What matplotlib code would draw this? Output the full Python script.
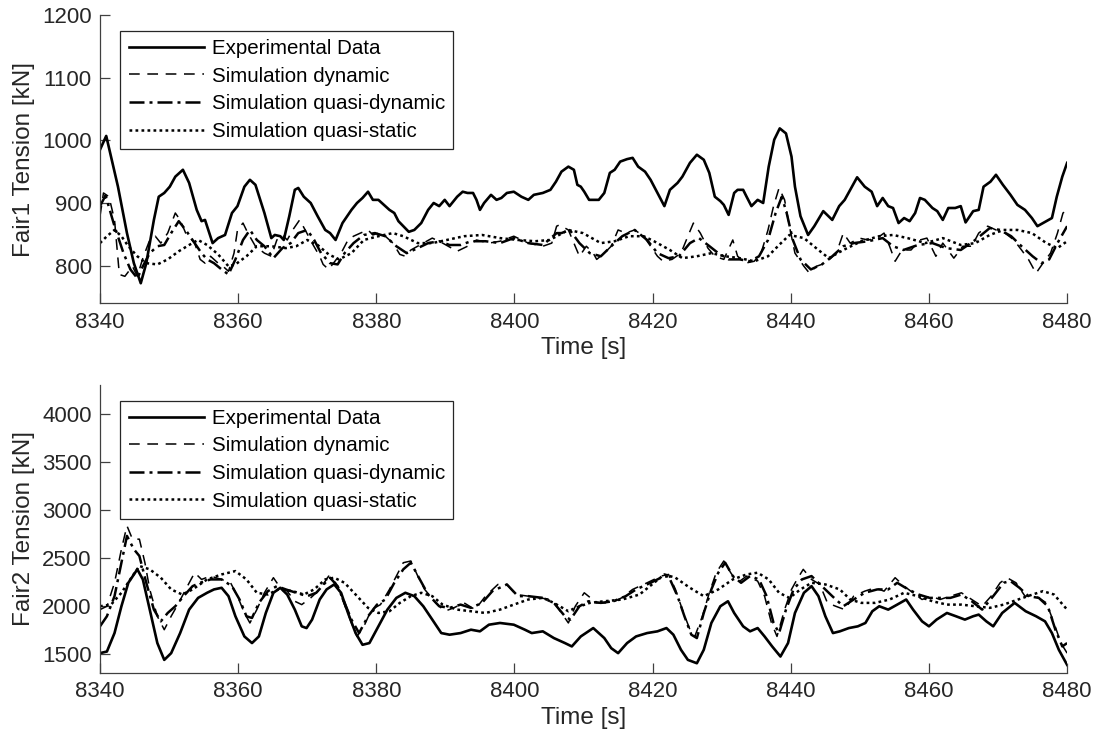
import matplotlib
matplotlib.use("Agg")
import matplotlib.pyplot as plt

# ---- Fair1 (top panel) ----
t_exp1 = [8340, 8340.9, 8342.6, 8343.9, 8344.9, 8345.9, 8346.7, 8347.8, 8348.5, 8349.3, 8350.1, 8350.9,
          8352.0, 8352.9, 8354.0, 8354.7, 8355.2, 8356.3, 8357.1, 8358.1, 8359.1, 8359.9, 8360.9, 8361.7,
          8362.5, 8363.8, 8364.8, 8365.3, 8366.1, 8366.6, 8367.4, 8368.2, 8368.7, 8369.5, 8370.5, 8371.5,
          8372.6, 8373.3, 8374.1, 8375.1, 8376.4, 8377.2, 8378.0, 8378.8, 8379.5, 8380.3, 8381.1, 8381.9,
          8382.6, 8383.2, 8383.9, 8384.7, 8385.5, 8386.5, 8387.5, 8388.3, 8389.1, 8389.9, 8390.6, 8391.7,
          8392.5, 8393.2, 8394.0, 8394.5, 8395.0, 8395.6, 8396.6, 8397.4, 8398.1, 8398.9, 8399.9, 8401.0,
          8402.0, 8402.8, 8404.1, 8405.2, 8406.0, 8406.8, 8407.8, 8408.6, 8409.1, 8409.6, 8410.1, 8410.8,
          8412.2, 8413.0, 8413.8, 8414.5, 8415.3, 8416.3, 8417.1, 8417.9, 8418.9, 8419.7, 8420.7, 8421.7,
          8422.5, 8423.6, 8424.3, 8425.4, 8426.4, 8427.4, 8428.2, 8429.0, 8429.8, 8430.3, 8431.0, 8431.8,
          8432.3, 8433.1, 8433.6, 8434.3, 8435.2, 8436.0, 8436.8, 8437.6, 8438.4, 8439.3, 8440.1, 8440.6,
          8441.4, 8442.5, 8443.4, 8444.7, 8446.0, 8447.0, 8447.8, 8448.6, 8449.6, 8450.7, 8451.7, 8452.5,
          8453.3, 8454.1, 8454.8, 8455.6, 8456.4, 8457.2, 8458.0, 8458.7, 8459.4, 8460.5, 8461.2, 8462.0,
          8462.8, 8463.8, 8464.6, 8465.3, 8466.4, 8467.2, 8467.9, 8468.9, 8469.7, 8470.7, 8471.8, 8472.8,
          8473.9, 8474.9, 8475.7, 8477.0, 8477.8, 8478.5, 8479.3, 8480.0]
f_exp1 = [985, 1007, 926, 852, 804, 772, 804, 873, 910, 916, 926, 942,
          953, 932, 889, 871, 873, 836, 844, 849, 884, 895, 926, 937,
          929, 884, 844, 849, 847, 841, 879, 921, 924, 910, 900, 879,
          857, 852, 841, 868, 889, 900, 908, 918, 905, 905, 897, 889,
          884, 871, 863, 854, 857, 868, 889, 900, 895, 905, 895, 910,
          918, 916, 916, 905, 889, 900, 913, 905, 908, 916, 918, 910,
          905, 913, 916, 921, 934, 950, 958, 953, 929, 926, 918, 905,
          905, 916, 948, 953, 966, 970, 972, 958, 950, 937, 916, 895,
          921, 932, 942, 964, 977, 969, 948, 910, 903, 897, 881, 916,
          921, 921, 910, 895, 905, 900, 958, 1001, 1019, 1011, 974, 926,
          879, 849, 863, 887, 873, 895, 905, 921, 941, 926, 918, 895,
          908, 895, 892, 868, 876, 871, 884, 908, 905, 892, 887, 873,
          892, 892, 895, 869, 887, 889, 926, 934, 945, 929, 913, 897,
          889, 876, 863, 871, 876, 910, 942, 964]

t_dyn1 = [8340, 8340.5, 8341.3, 8342.1, 8342.8, 8343.6, 8344.7, 8345.4, 8346.2, 8347.2, 8348.0, 8348.8,
          8349.8, 8350.9, 8351.6, 8352.4, 8353.7, 8354.5, 8355.2, 8356.0, 8357.1, 8357.8, 8358.6, 8359.4,
          8359.9, 8360.7, 8361.4, 8362.5, 8363.8, 8364.8, 8365.6, 8366.4, 8367.1, 8367.9, 8368.9, 8369.7,
          8370.7, 8371.8, 8372.3, 8373.1, 8373.8, 8374.9, 8375.9, 8376.7, 8377.7, 8378.8, 8379.5, 8380.3,
          8381.3, 8382.4, 8383.4, 8384.2, 8385.0, 8386.3, 8387.3, 8388.1, 8389.6, 8390.9, 8391.7, 8393.2,
          8394.5, 8396.3, 8397.9, 8399.9, 8402.0, 8404.1, 8405.4, 8406.1, 8406.5, 8407.8, 8408.8, 8409.4,
          8410.4, 8411.4, 8411.9, 8413.0, 8414.0, 8415.0, 8416.1, 8417.4, 8418.7, 8419.7, 8420.7, 8421.5,
          8422.8, 8424.1, 8425.1, 8425.9, 8426.9, 8428.0, 8429.0, 8430.3, 8431.6, 8432.3, 8433.4, 8434.7,
          8435.7, 8436.7, 8437.5, 8438.3, 8439.1, 8439.8, 8440.6, 8441.9, 8442.7, 8443.7, 8445.0, 8446.6,
          8447.6, 8448.6, 8449.9, 8451.2, 8452.5, 8453.5, 8454.3, 8455.1, 8456.1, 8457.4, 8458.7, 8459.7,
          8461.0, 8462.0, 8463.6, 8464.9, 8466.2, 8467.2, 8468.5, 8469.7, 8471.0, 8472.3, 8473.4, 8474.4,
          8475.5, 8476.5, 8477.6, 8478.6, 8479.4, 8480.0]
f_dyn1 = [879, 916, 910, 873, 786, 783, 799, 783, 812, 841, 847, 836,
          852, 884, 873, 852, 836, 810, 804, 815, 804, 799, 791, 820,
          857, 868, 852, 831, 820, 815, 841, 849, 841, 857, 873, 857,
          836, 815, 802, 794, 804, 820, 841, 847, 852, 857, 849, 852,
          847, 836, 818, 815, 825, 833, 839, 844, 836, 828, 823, 831,
          841, 836, 839, 847, 836, 831, 836, 863, 865, 857, 831, 815,
          831, 820, 810, 820, 831, 857, 852, 857, 847, 831, 815, 807,
          810, 820, 847, 868, 852, 828, 815, 810, 841, 815, 804, 807,
          820, 857, 895, 924, 905, 863, 820, 799, 788, 799, 804, 820,
          852, 836, 844, 841, 844, 852, 831, 807, 825, 825, 841, 844,
          815, 836, 812, 831, 831, 852, 863, 857, 852, 841, 825, 810,
          788, 804, 820, 852, 884, 889]

t_qdyn1 = [8340, 8340.8, 8342.1, 8343.4, 8344.4, 8345.4, 8346.2, 8347.2, 8348.3, 8349.3, 8350.3, 8351.4,
           8352.4, 8353.7, 8354.7, 8355.5, 8356.5, 8357.6, 8358.6, 8359.6, 8360.7, 8361.7, 8362.7, 8363.8,
           8365.1, 8366.4, 8367.6, 8368.7, 8370.0, 8371.0, 8372.0, 8373.3, 8374.4, 8375.4, 8376.7, 8378.2,
           8379.8, 8381.3, 8382.9, 8384.4, 8386.0, 8387.5, 8389.1, 8390.6, 8392.2, 8393.7, 8395.8, 8397.9,
           8399.9, 8402.0, 8404.1, 8406.1, 8406.8, 8408.0, 8409.4, 8410.9, 8412.5, 8414.0, 8415.6, 8417.4,
           8419.2, 8420.7, 8422.3, 8423.8, 8425.4, 8426.7, 8428.0, 8429.5, 8431.0, 8432.6, 8434.1, 8435.4,
           8436.7, 8437.8, 8438.7, 8439.4, 8440.3, 8441.4, 8442.9, 8444.5, 8446.0, 8447.6, 8449.1, 8451.2,
           8453.3, 8454.8, 8456.3, 8458.4, 8460.5, 8462.5, 8464.6, 8466.7, 8468.8, 8470.3, 8471.9, 8473.4,
           8475.0, 8476.3, 8477.4, 8478.6, 8480.0]
f_qdyn1 = [895, 912, 863, 820, 794, 780, 799, 820, 831, 833, 852, 871,
           857, 836, 820, 810, 804, 794, 786, 810, 841, 857, 841, 831,
           812, 828, 836, 852, 857, 841, 820, 804, 802, 820, 836, 849,
           852, 847, 831, 820, 828, 836, 839, 833, 833, 839, 839, 836,
           844, 836, 833, 852, 852, 857, 836, 820, 815, 831, 847, 857,
           841, 820, 812, 815, 836, 844, 833, 820, 810, 810, 807, 815,
           841, 884, 910, 884, 841, 810, 794, 802, 815, 831, 836, 839,
           844, 831, 825, 833, 836, 828, 825, 841, 860, 857, 847, 831,
           815, 804, 810, 836, 863]

t_qst1 = [8340, 8341.0, 8342.1, 8343.1, 8344.1, 8345.4, 8346.7, 8348.3, 8349.8, 8351.4, 8352.9, 8354.2,
          8355.5, 8357.1, 8358.6, 8359.6, 8361.2, 8362.7, 8364.8, 8366.9, 8368.4, 8370.0, 8371.5, 8373.1,
          8374.6, 8376.4, 8378.2, 8380.3, 8382.4, 8383.9, 8386.0, 8388.1, 8390.2, 8392.7, 8395.3, 8397.9,
          8400.5, 8403.0, 8405.1, 8407.8, 8409.9, 8412.5, 8414.5, 8416.6, 8418.7, 8420.2, 8422.5, 8424.3,
          8426.4, 8428.5, 8430.5, 8432.6, 8434.7, 8436.7, 8438.3, 8439.8, 8441.9, 8444.0, 8445.5, 8447.6,
          8450.2, 8452.8, 8454.8, 8456.9, 8459.5, 8462.0, 8464.6, 8466.7, 8468.8, 8470.8, 8472.8, 8474.9,
          8477.0, 8478.6, 8480.0]
f_qst1 = [836, 847, 857, 847, 831, 815, 804, 802, 810, 823, 833, 841,
          833, 818, 799, 802, 815, 831, 831, 828, 831, 841, 833, 818,
          810, 820, 841, 847, 852, 847, 836, 836, 841, 847, 849, 844,
          841, 839, 841, 857, 852, 836, 839, 847, 847, 839, 825, 812,
          815, 820, 815, 812, 807, 815, 833, 849, 844, 825, 812, 825,
          839, 847, 849, 844, 836, 844, 833, 836, 849, 857, 857, 852,
          836, 828, 839]

# ---- Fair2 (bottom panel) ----
t_exp2 = [8340, 8341.0, 8342.1, 8343.1, 8344.1, 8345.4, 8346.2, 8347.2, 8348.3, 8349.3, 8350.3, 8351.6,
          8352.9, 8354.2, 8355.5, 8356.5, 8357.6, 8358.6, 8359.6, 8360.9, 8362.0, 8363.0, 8364.0, 8365.1,
          8366.1, 8367.1, 8368.2, 8369.2, 8369.9, 8370.7, 8371.8, 8372.8, 8373.9, 8374.9, 8375.9, 8377.0,
          8378.0, 8379.0, 8380.3, 8381.6, 8382.9, 8384.2, 8385.5, 8386.8, 8388.1, 8389.4, 8390.6, 8392.2,
          8393.7, 8395.0, 8396.3, 8397.9, 8399.9, 8401.5, 8402.5, 8404.1, 8405.7, 8407.3, 8408.3, 8409.6,
          8411.4, 8413.0, 8414.0, 8415.0, 8416.3, 8417.6, 8419.2, 8420.7, 8422.0, 8423.0, 8424.1, 8425.1,
          8426.4, 8427.4, 8428.5, 8429.8, 8430.9, 8431.8, 8433.1, 8434.1, 8435.2, 8436.2, 8437.3, 8438.5,
          8439.6, 8440.6, 8441.9, 8443.0, 8444.0, 8445.0, 8446.1, 8447.1, 8448.4, 8449.7, 8450.8, 8451.8,
          8452.8, 8454.1, 8455.4, 8456.7, 8457.7, 8459.0, 8460.0, 8461.1, 8462.6, 8463.9, 8465.2, 8466.4,
          8467.2, 8468.3, 8469.3, 8470.6, 8472.4, 8474.0, 8475.5, 8476.8, 8477.8, 8478.8, 8480.0]
f_exp2 = [1507, 1524, 1716, 1995, 2239, 2379, 2274, 1960, 1612, 1437, 1507, 1716,
          1960, 2082, 2135, 2170, 2187, 2100, 1891, 1681, 1612, 1681, 1925, 2135,
          2187, 2117, 1960, 1786, 1768, 1856, 2065, 2170, 2222, 2135, 1925, 1716,
          1594, 1612, 1786, 1960, 2082, 2135, 2100, 1995, 1856, 1716, 1699, 1716,
          1751, 1734, 1803, 1821, 1803, 1751, 1716, 1734, 1664, 1612, 1577, 1681,
          1768, 1664, 1559, 1507, 1612, 1681, 1716, 1734, 1768, 1699, 1542, 1437,
          1402, 1542, 1821, 1995, 2047, 1925, 1786, 1734, 1768, 1681, 1577, 1472,
          1612, 1925, 2135, 2204, 2100, 1891, 1716, 1734, 1768, 1786, 1821, 1943,
          1995, 1960, 2012, 2065, 1960, 1838, 1786, 1856, 1925, 1891, 1856, 1891,
          1908, 1838, 1786, 1925, 2030, 1943, 1891, 1838, 1716, 1542, 1385]

t_dyn2 = [8340, 8341.0, 8342.1, 8343.1, 8343.9, 8344.7, 8345.7, 8346.5, 8347.2, 8348.3, 8349.3, 8350.3,
          8351.4, 8352.4, 8353.7, 8354.7, 8356.0, 8357.6, 8358.9, 8359.9, 8360.9, 8361.7, 8362.7, 8363.8,
          8365.1, 8366.1, 8367.1, 8368.2, 8369.2, 8370.5, 8371.8, 8373.1, 8374.1, 8375.1, 8376.4, 8377.2,
          8378.2, 8379.3, 8380.6, 8381.9, 8382.9, 8383.9, 8385.0, 8386.0, 8387.0, 8388.6, 8389.9, 8391.2,
          8392.7, 8394.3, 8395.8, 8397.6, 8398.9, 8400.2, 8402.0, 8403.6, 8405.4, 8406.8, 8407.8, 8408.8,
          8410.1, 8411.9, 8414.0, 8415.5, 8417.1, 8419.2, 8421.2, 8422.3, 8423.3, 8424.3, 8425.4, 8426.1,
          8427.2, 8428.2, 8429.2, 8430.3, 8431.3, 8432.3, 8433.6, 8435.2, 8436.2, 8437.2, 8438.0, 8439.1,
          8440.1, 8440.9, 8441.8, 8443.0, 8444.2, 8445.3, 8446.5, 8447.8, 8449.1, 8450.7, 8452.2, 8453.5,
          8455.1, 8456.4, 8457.7, 8459.0, 8460.3, 8461.6, 8463.1, 8464.7, 8466.2, 8467.7, 8469.0, 8470.3,
          8471.3, 8472.6, 8473.9, 8475.5, 8477.0, 8478.1, 8479.1, 8480.0]
f_dyn2 = [1960, 1995, 2239, 2588, 2832, 2693, 2693, 2448, 2170, 1891, 1751, 1891,
          2030, 2170, 2344, 2274, 2309, 2274, 2239, 2100, 1925, 1821, 1960, 2135,
          2292, 2187, 2152, 2047, 2012, 2082, 2170, 2309, 2239, 2065, 1821, 1681,
          1786, 1960, 2012, 2170, 2309, 2448, 2466, 2309, 2170, 2030, 1943, 1978,
          2030, 1960, 2100, 2222, 2222, 2117, 2100, 2082, 2065, 1925, 1821, 1995,
          2135, 2030, 2030, 2082, 2170, 2239, 2309, 2326, 2170, 1960, 1751, 1681,
          1891, 2135, 2344, 2466, 2344, 2239, 2309, 2257, 2100, 1821, 1681, 1960,
          2170, 2274, 2379, 2274, 2222, 2030, 1995, 1960, 2100, 2152, 2187, 2152,
          2292, 2204, 2135, 2065, 2100, 2065, 2100, 2135, 2065, 1995, 2100, 2239,
          2292, 2239, 2100, 2100, 2030, 1821, 1612, 1507]

t_qdyn2 = [8340, 8341.0, 8342.1, 8343.1, 8343.9, 8344.9, 8345.7, 8346.7, 8347.8, 8348.8, 8349.8, 8350.9,
           8352.1, 8353.4, 8354.5, 8356.0, 8357.6, 8359.1, 8360.2, 8361.2, 8362.0, 8363.0, 8364.3, 8365.6,
           8366.9, 8368.4, 8370.0, 8371.3, 8372.6, 8373.3, 8374.4, 8375.4, 8376.4, 8377.5, 8378.8, 8380.1,
           8381.3, 8382.6, 8383.9, 8385.0, 8386.3, 8387.5, 8389.1, 8390.6, 8392.2, 8393.7, 8395.3, 8396.8,
           8398.9, 8400.5, 8402.0, 8404.1, 8405.7, 8407.3, 8408.1, 8409.4, 8410.7, 8412.5, 8414.3, 8416.1,
           8417.6, 8419.7, 8421.2, 8422.3, 8423.6, 8424.6, 8425.6, 8426.4, 8427.4, 8428.5, 8429.5, 8430.5,
           8431.6, 8432.8, 8434.1, 8435.4, 8436.5, 8437.5, 8438.3, 8439.3, 8440.4, 8441.6, 8443.0, 8444.5,
           8446.0, 8447.6, 8449.1, 8450.7, 8452.5, 8454.1, 8455.4, 8457.0, 8458.5, 8460.1, 8461.6, 8463.1,
           8464.7, 8466.2, 8467.7, 8469.3, 8470.8, 8471.8, 8473.1, 8474.4, 8475.9, 8477.2, 8478.3, 8479.3,
           8480.0]
f_qdyn2 = [1786, 1891, 2100, 2448, 2727, 2588, 2518, 2239, 1960, 1838, 1925, 1995,
           2100, 2204, 2239, 2274, 2274, 2204, 2065, 1891, 1873, 2030, 2152, 2204,
           2170, 2135, 2100, 2135, 2239, 2292, 2204, 2030, 1856, 1716, 1891, 2012,
           2065, 2239, 2379, 2448, 2274, 2117, 1995, 1978, 2012, 1978, 2030, 2152,
           2222, 2100, 2100, 2082, 2030, 1891, 1856, 1995, 2047, 2030, 2047, 2100,
           2170, 2239, 2292, 2309, 2100, 1891, 1699, 1664, 1925, 2170, 2344, 2448,
           2309, 2239, 2309, 2274, 2100, 1821, 1716, 1960, 2170, 2274, 2309, 2204,
           2100, 1995, 2065, 2135, 2170, 2170, 2239, 2170, 2117, 2082, 2082, 2082,
           2117, 2047, 1960, 2100, 2239, 2257, 2187, 2100, 2082, 1995, 1751, 1577,
           1612]

t_qst2 = [8340, 8341.6, 8343.1, 8344.7, 8345.7, 8347.2, 8348.8, 8350.3, 8351.9, 8353.4, 8355.5, 8357.6,
          8359.6, 8361.2, 8362.7, 8364.3, 8365.8, 8367.9, 8369.5, 8371.0, 8372.6, 8373.9, 8375.4, 8377.0,
          8378.8, 8380.3, 8381.9, 8383.4, 8385.0, 8386.5, 8388.1, 8389.6, 8391.7, 8393.7, 8395.8, 8397.9,
          8399.9, 8402.0, 8404.1, 8405.7, 8407.8, 8408.8, 8410.9, 8413.0, 8415.6, 8418.1, 8420.2, 8421.7,
          8423.3, 8425.4, 8427.4, 8429.5, 8431.6, 8433.6, 8435.2, 8436.8, 8438.3, 8439.8, 8441.4, 8443.0,
          8445.0, 8447.1, 8448.6, 8450.2, 8452.2, 8454.3, 8456.4, 8458.4, 8460.5, 8462.6, 8464.7, 8466.7,
          8468.8, 8470.8, 8472.9, 8475.0, 8476.5, 8478.1, 8480.0]
f_qst2 = [1995, 2012, 2135, 2309, 2414, 2379, 2292, 2170, 2117, 2170, 2274, 2326,
          2361, 2274, 2135, 2117, 2170, 2152, 2117, 2170, 2274, 2292, 2239, 2117,
          1978, 1925, 1943, 2030, 2100, 2135, 2100, 2012, 1960, 1943, 1925, 1960,
          2012, 2065, 2082, 2030, 1943, 1978, 2030, 2047, 2065, 2117, 2239, 2326,
          2292, 2187, 2100, 2170, 2274, 2326, 2344, 2274, 2135, 2082, 2170, 2239,
          2222, 2170, 2065, 2030, 2030, 2065, 2135, 2100, 2047, 2012, 2012, 1995,
          1978, 2012, 2065, 2117, 2152, 2117, 1960]

labels = ["Experimental Data", "Simulation dynamic",
          "Simulation quasi-dynamic", "Simulation quasi-static"]
x_ticks = list(range(8340, 8481, 20))
y_ticks1 = [800, 900, 1000, 1100, 1200]
y_ticks2 = [1500, 2000, 2500, 3000, 3500, 4000]

GREY = "#262626"


def draw_panel(ax, series, ylabel, ylim, yticks):
    styles = [
        dict(linestyle="-", lw=1.9),
        dict(linestyle=(0, (7, 5)), lw=1.1),
        dict(linestyle=(0, (6, 2, 1.2, 2)), lw=1.8),
        dict(linestyle=(0, (1.1, 1.3)), lw=1.8),
    ]
    for (t, f), lab, st in zip(series, labels, styles):
        ax.plot(t, f, color="black", label=lab, **st)

    ax.set_xlim(8340, 8480)
    ax.set_ylim(*ylim)
    ax.set_xticks(x_ticks)
    ax.set_yticks(yticks)
    ax.set_xlabel("Time [s]", fontsize=17.5, color=GREY, labelpad=3)
    ax.set_ylabel(ylabel, fontsize=17.5, color=GREY, labelpad=5)
    for side in ["top", "right"]:
        ax.spines[side].set_visible(False)
    for side in ["left", "bottom"]:
        ax.spines[side].set_color("#404040")
        ax.spines[side].set_linewidth(0.9)
    ax.tick_params(direction="in", length=7, width=0.9, color="#404040",
                   labelsize=16, labelcolor=GREY, pad=6)

    leg = ax.legend(loc="upper left", bbox_to_anchor=(0.021, 0.945), fontsize=14.8,
                    handlelength=3.65, handletextpad=0.4, labelspacing=0.42,
                    borderpad=0.4, borderaxespad=0, fancybox=False, framealpha=1)
    leg.get_frame().set_edgecolor(GREY)
    leg.get_frame().set_linewidth(0.9)


def main():
    plt.rcParams["font.family"] = ["Liberation Sans", "DejaVu Sans"]

    fig = plt.figure(figsize=(10.99, 7.47), dpi=100)
    ax1 = fig.add_axes([0.091, 0.594, 0.880, 0.386])
    ax2 = fig.add_axes([0.091, 0.099, 0.880, 0.386])

    draw_panel(ax1, [(t_exp1, f_exp1), (t_dyn1, f_dyn1), (t_qdyn1, f_qdyn1), (t_qst1, f_qst1)],
               "Fair1 Tension [kN]", (740, 1200), y_ticks1)
    draw_panel(ax2, [(t_exp2, f_exp2), (t_dyn2, f_dyn2), (t_qdyn2, f_qdyn2), (t_qst2, f_qst2)],
               "Fair2 Tension [kN]", (1300, 4300), y_ticks2)

    fig.savefig("out.png", dpi=100)


if __name__ == "__main__":
    main()
